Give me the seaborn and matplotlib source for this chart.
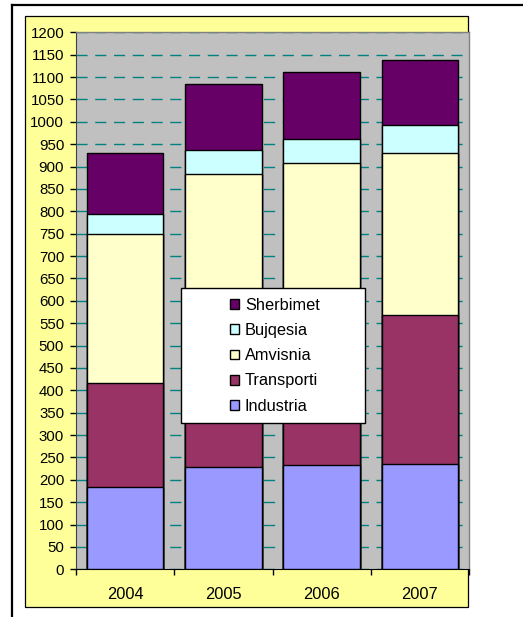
import numpy as np
import matplotlib
matplotlib.use("Agg")
import matplotlib.pyplot as plt
import seaborn as sns
from matplotlib.patches import Patch, Rectangle
from matplotlib.lines import Line2D

# data (values per year)
years = ["2004", "2005", "2006", "2007"]
industria = [185, 229, 233, 236]
transporti = [232, 241, 267, 333]
amvisnia = [333, 414, 407, 361]
bujqesia = [45, 54, 55, 62]
sherbimet = [136, 146, 150, 146]

series_names = ["Industria", "Transporti", "Amvisnia", "Bujqesia", "Sherbimet"]
series_vals = [industria, transporti, amvisnia, bujqesia, sherbimet]
colors = ["#9999FF", "#993366", "#FFFFCC", "#CCFFFF", "#660066"]

plt.rcParams["font.family"] = ["Liberation Sans", "DejaVu Sans"]

W, H = 523, 617
fig = plt.figure(figsize=(W / 100, H / 100), dpi=100)
fig.patch.set_facecolor("white")

# outer frame (only top / left visible)
fig.add_artist(Line2D([12 / W, 12 / W], [0, 1 - 5 / H], color="black", linewidth=1.6, zorder=-2))
fig.add_artist(Line2D([12 / W, 1], [1 - 5 / H, 1 - 5 / H], color="black", linewidth=1.6, zorder=-2))
# yellow chart area
fig.add_artist(Rectangle((25 / W, 1 - 607 / H), 443 / W, 591 / H, transform=fig.transFigure,
                         facecolor="#FFFF99", edgecolor="black", linewidth=0.9, zorder=-1))

ax = fig.add_axes([76 / W, 1 - 569.3 / H, 393 / W, 537 / H])
ax.set_facecolor("#C0C0C0")

# stacked bars: draw cumulative totals, tallest first
cum = np.cumsum(np.array(series_vals), axis=0)
for i in range(len(series_names) - 1, -1, -1):
    sns.barplot(x=years, y=cum[i], color=colors[i], saturation=1, width=0.78,
                edgecolor="black", linewidth=1, ax=ax, zorder=3)

ax.set_ylim(0, 1200)
ax.set_xlim(-0.5, 3.5)
ax.set_yticks(range(0, 1201, 50))
ax.set_xlabel("")
ax.set_ylabel("")
ax.set_axisbelow(True)
ax.yaxis.grid(True, color="#008080", linestyle=(0, (8, 5.5)), linewidth=1)

ax.tick_params(axis="y", direction="out", length=4.5, width=1, pad=4, labelsize=10.8)
ax.set_xticks([-0.5, 0.5, 1.5, 2.5, 3.5], minor=True)
ax.tick_params(axis="x", which="major", length=0, pad=13, labelsize=11.8)
ax.tick_params(axis="x", which="minor", direction="out", length=4, width=1)

for s in ["top", "right"]:
    ax.spines[s].set_color("#808080")
    ax.spines[s].set_linewidth(1)
ax.spines["left"].set_color("#404040")
ax.spines["bottom"].set_color("black")

# legend with white box
box = Rectangle((181 / W, 1 - 423.3 / H), 184 / W, 135 / H, transform=fig.transFigure,
                facecolor="white", edgecolor="black", linewidth=1, zorder=8, clip_on=False)
ax.add_patch(box)
handles = [Patch(facecolor=colors[i], edgecolor="black", linewidth=1) for i in range(4, -1, -1)]
labels = [series_names[i] for i in range(4, -1, -1)]
leg = ax.legend(handles, labels, loc="center", bbox_to_anchor=(275 / W, 1 - 355.8 / H),
                bbox_transform=fig.transFigure, frameon=False, fontsize=11.8,
                handlelength=0.55, handleheight=0.55, handletextpad=0.35, labelspacing=0.62)
leg.set_zorder(9)

fig.savefig("out.png", dpi=100)
